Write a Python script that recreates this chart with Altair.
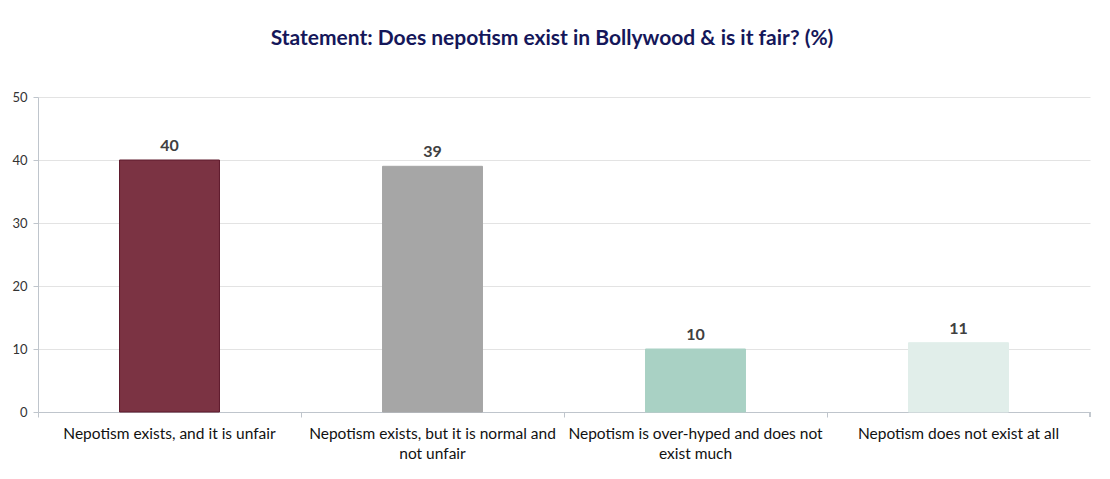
import altair as alt
import pandas as pd

categories = [
    "Nepotism exists, and it is unfair",
    "Nepotism exists, but it is normal and|not unfair",
    "Nepotism is over-hyped and does not|exist much",
    "Nepotism does not exist at all",
]
values = [40, 39, 10, 11]
colors = ["#7B3343", "#A6A6A6", "#A9D1C4", "#E1EEEA"]
strokes = ["#5E1A2C", "#A6A6A6", "#A9D1C4", "#E1EEEA"]

df = pd.DataFrame({"cat": categories, "val": values, "color": colors, "stroke": strokes})

W, H = 1052, 315
FONT = "Lato"

x = alt.X("cat:N", sort=categories, title=None,
          scale=alt.Scale(paddingInner=0, paddingOuter=0),
          axis=alt.Axis(labelExpr="split(datum.label, '|')", labelAngle=0,
                        labelFont=FONT, labelFontSize=15.5, labelColor="#111111",
                        labelLimit=300, labelPadding=9, labelLineHeight=20,
                        bandPosition=0, domainColor="#BFC5CC", tickColor="#BFC5CC",
                        tickSize=5, grid=False, labelBaseline="top"))
y = alt.Y("val:Q", title=None,
          scale=alt.Scale(domain=[0, 50]),
          axis=alt.Axis(values=[0, 10, 20, 30, 40, 50], labelFont=FONT, labelFontSize=13,
                        labelColor="#333333", domainColor="#BFC5CC", tickColor="#BFC5CC",
                        tickSize=5, gridColor="#E3E3E3", labelPadding=6))

bars = alt.Chart(df).mark_bar(width=alt.RelativeBandSize(0.38), strokeWidth=1).encode(
    x=x, y=y,
    color=alt.Color("color:N", scale=None),
    stroke=alt.Stroke("stroke:N", scale=None),
)
text = alt.Chart(df).mark_text(dy=-14, font=FONT, fontSize=16, fontWeight="bold", color="#404040").encode(
    x=alt.X("cat:N", sort=categories), y="val:Q", text="val:Q"
)
endtick = alt.Chart(df).mark_rule(color="#BFC5CC").encode(
    x=alt.value(W), y=alt.value(H), y2=alt.value(H + 5)
)

chart = alt.layer(bars, text, endtick).properties(
    width=W, height=H,
    title=alt.TitleParams("Statement: Does nepotism exist in Bollywood & is it fair? (%)",
                          font=FONT, fontSize=21, fontWeight="bold", color="#15175A",
                          offset=42, dx=-12),
    autosize=alt.AutoSizeParams(type="none"),
    padding={"left": 30, "top": 89, "right": 12, "bottom": 60},
).configure_view(stroke=None)

chart.save("out.html", embed_options={"renderer": "svg", "actions": False})
